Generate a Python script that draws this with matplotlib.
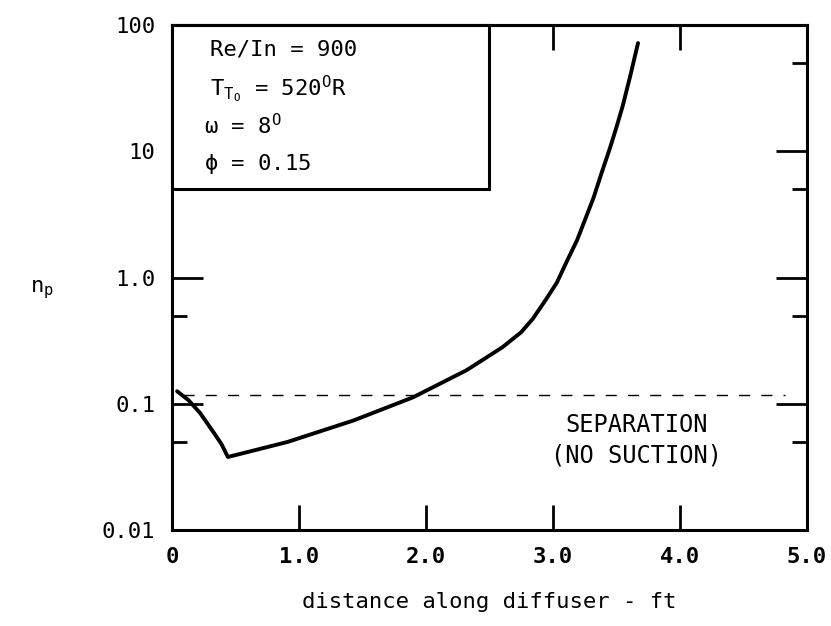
import numpy as np
import matplotlib
matplotlib.use('Agg')
import matplotlib.pyplot as plt
from matplotlib.patches import Rectangle
from matplotlib.ticker import FixedLocator, NullFormatter

plt.rcParams['font.family'] = 'DejaVu Sans Mono'
plt.rcParams['mathtext.default'] = 'regular'

# curve (distance in ft, n_p)
dist = [0.04, 0.13, 0.22, 0.33, 0.39, 0.44, 0.91, 1.43, 1.90, 2.32, 2.60, 2.75, 2.84, 2.94,
        3.03, 3.11, 3.19, 3.26, 3.32, 3.38, 3.45, 3.50, 3.55, 3.61, 3.67]
n_p = [0.126, 0.107, 0.085, 0.059, 0.048, 0.038, 0.050, 0.074, 0.113, 0.185, 0.28, 0.37, 0.47, 0.66,
       0.91, 1.35, 1.98, 3.0, 4.3, 6.6, 10.7, 15.5, 23.0, 40.0, 72.0]

# separation level (no suction)
sep_x = [0.09, 4.83]
sep_y = [0.117, 0.117]

xticks = [0, 1, 2, 3, 4, 5]
xlabels = ['0', '1.0', '2.0', '3.0', '4.0', '5.0']
yticks = [0.01, 0.1, 1, 10, 100]
ylabels = ['0.01', '0.1', '1.0', '10', '100']
yminor = [0.05, 0.5, 5, 50]

fig = plt.figure(figsize=(8.31, 6.26), dpi=100)
ax = fig.add_axes([0.207, 0.153, 0.764, 0.807])

ax.plot(dist, n_p, color='black', lw=2.8, solid_joinstyle='round', solid_capstyle='round')
ax.plot(sep_x, sep_y, color='black', lw=1.0, linestyle=(0, (8, 8)))

ax.set_yscale('log')
ax.set_xlim(0, 5)
ax.set_ylim(0.01, 100)

for s in ax.spines.values():
    s.set_linewidth(2.2)

ax.set_xticks(xticks)
ax.set_xticklabels(xlabels, fontsize=16, fontweight='bold')
ax.set_yticks(yticks)
ax.set_yticklabels(ylabels, fontsize=16)
ax.yaxis.set_minor_locator(FixedLocator(yminor))
ax.yaxis.set_minor_formatter(NullFormatter())
ax.xaxis.set_minor_locator(FixedLocator([]))

ax.tick_params(axis='x', which='major', direction='in', length=18, width=2, pad=12, top=False)
ax.tick_params(axis='y', which='major', direction='in', length=22, width=2, pad=12, right=True)
ax.tick_params(axis='y', which='minor', direction='in', length=11, width=2, right=True)
# hide the end ticks that sit on the frame
for t in ax.xaxis.get_major_ticks():
    if t.get_loc() in (0, 5):
        t.tick1line.set_visible(False)
for t in ax.yaxis.get_major_ticks():
    if t.get_loc() in (0.01, 100):
        t.tick1line.set_visible(False)
        t.tick2line.set_visible(False)

# top ticks at 3.0 and 4.0 only
sec = ax.secondary_xaxis('top')
sec.set_xticks([3, 4])
sec.set_xticklabels([])
sec.tick_params(direction='in', length=18, width=2)
sec.spines['top'].set_linewidth(2.2)

# parameter box
box = Rectangle((0, 0.6747), 0.5, 0.3253, transform=ax.transAxes, facecolor='white',
                edgecolor='black', lw=2.2, zorder=4, clip_on=False)
ax.add_patch(box)
box_lines = ['Re/In = 900', r'$T_{T_O}$ = 520$^O$R', r'$\omega$ = 8$^O$', r'$\phi$ = 0.15']
box_y = [0.952, 0.873, 0.800, 0.725]
box_x = [0.06, 0.06, 0.05, 0.05]
for tx, ty, s in zip(box_x, box_y, box_lines):
    ax.text(tx, ty, s, transform=ax.transAxes, fontsize=16, va='center', ha='left', zorder=5)

ax.text(0.732, 0.208, 'SEPARATION', transform=ax.transAxes, fontsize=17, ha='center', va='center')
ax.text(0.732, 0.148, '(NO SUCTION)', transform=ax.transAxes, fontsize=17, ha='center', va='center')

ax.set_xlabel('distance along diffuser - ft', fontsize=16, labelpad=18)
fig.text(30 / 831, 1 - 290 / 626, r'n$_p$', fontsize=16, ha='left', va='center')

fig.savefig('out.png', dpi=100)
